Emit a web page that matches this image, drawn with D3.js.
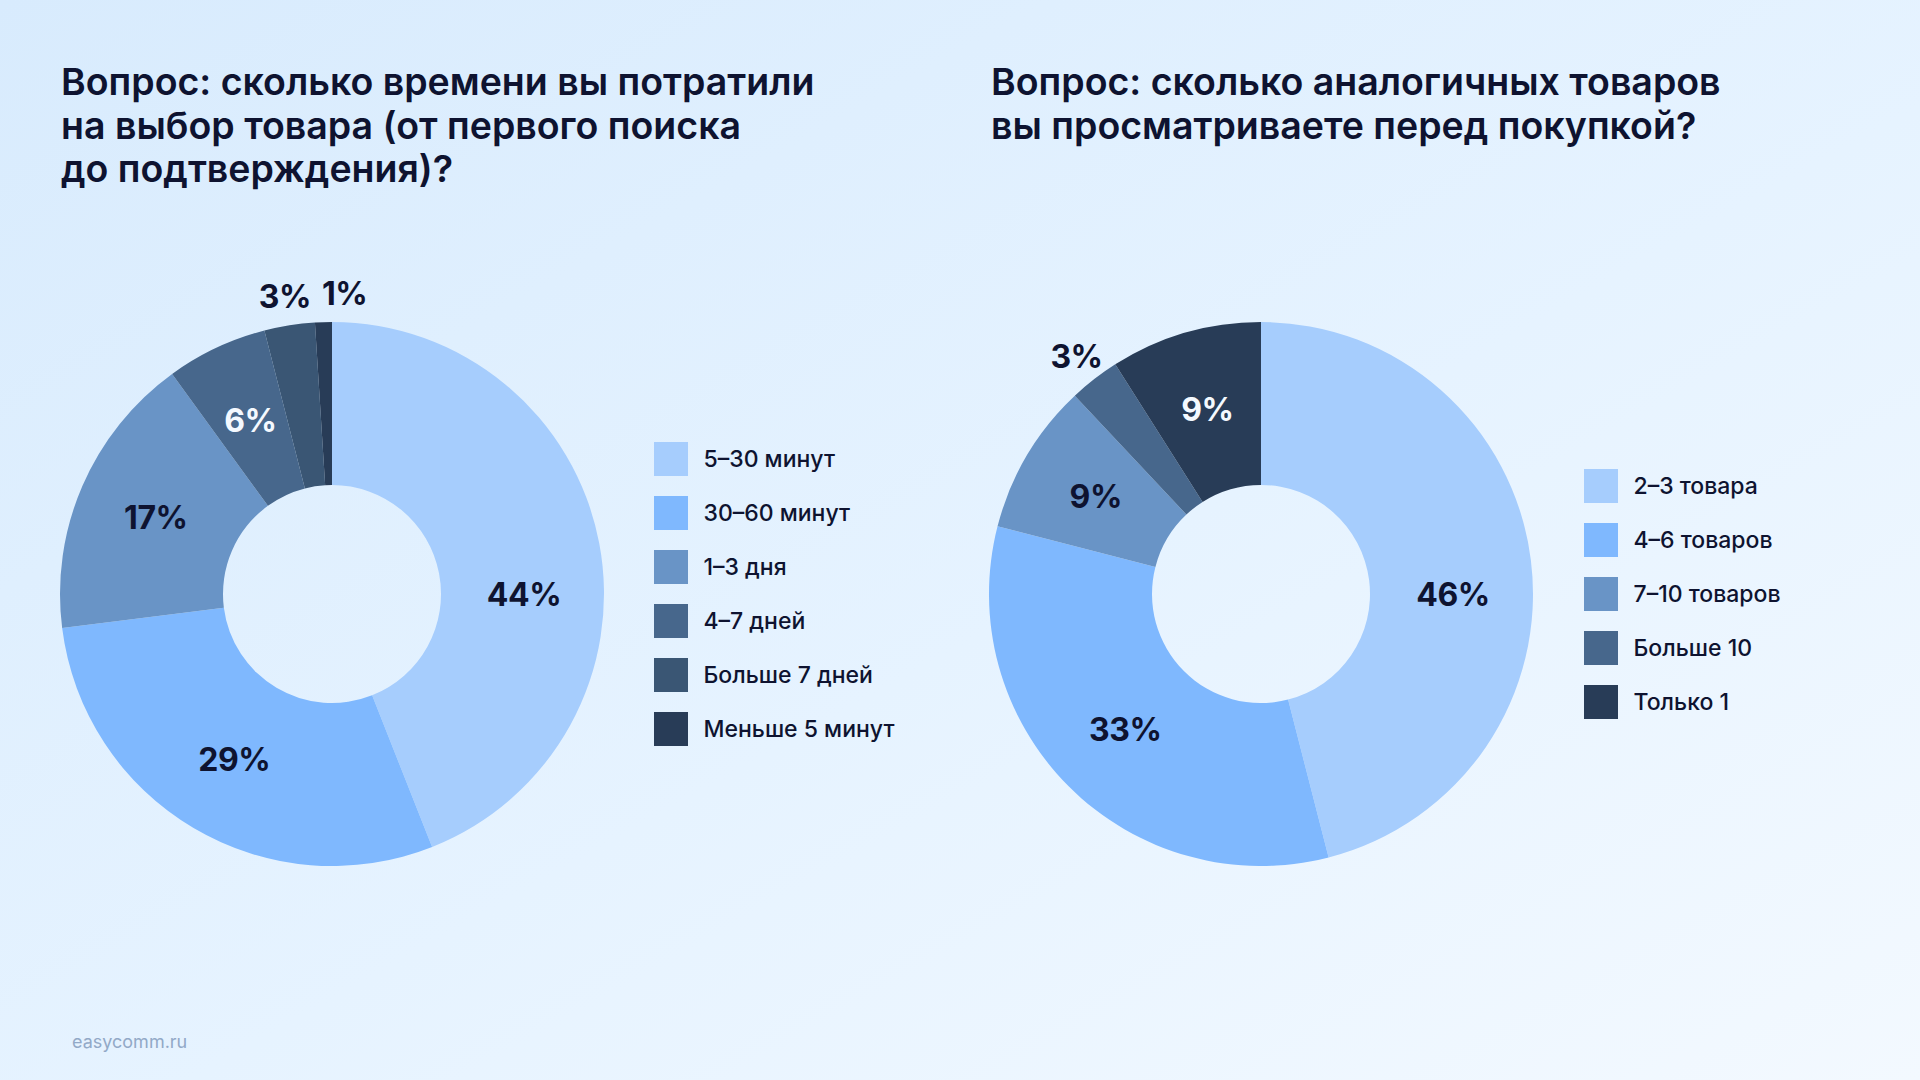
<!DOCTYPE html>
<html lang="ru">
<head>
<meta charset="utf-8">
<script src="https://cdn.jsdelivr.net/npm/d3@7"></script>
<style>
  html, body { margin: 0; padding: 0; width: 1920px; height: 1080px; overflow: hidden; background: #e6f2ff; }
  svg { display: block; font-family: Inter, "Noto Sans", sans-serif; }
</style>
</head>
<body>
<svg id="chart" width="1920" height="1080"></svg>
<script>
// ---- data ----
const leftTitle = ["Вопрос: сколько времени вы потратили", "на выбор товара (от первого поиска", "до подтверждения)?"];
const leftCategories = ["5–30 минут", "30–60 минут", "1–3 дня", "4–7 дней", "Больше 7 дней", "Меньше 5 минут"];
const leftValues = [44, 29, 17, 6, 3, 1];
const leftColors = ["#a6cdfd", "#7fb8fe", "#6994c6", "#47678c", "#3a5674", "#283c57"];

const rightTitle = ["Вопрос: сколько аналогичных товаров", "вы просматриваете перед покупкой?"];
const rightCategories = ["2–3 товара", "4–6 товаров", "7–10 товаров", "Больше 10", "Только 1"];
const rightValues = [46, 33, 9, 3, 9];
const rightColors = ["#a6cdfd", "#7fb8fe", "#6994c6", "#47678c", "#283c57"];

const footerText = "easycomm.ru";

// ---- drawing ----
const svg = d3.select("#chart");
const defs = svg.append("defs");
const grad = defs.append("linearGradient").attr("id", "bg")
  .attr("x1", "0%").attr("y1", "0%").attr("x2", "100%").attr("y2", "100%");
grad.append("stop").attr("offset", "0%").attr("stop-color", "#d8ebfd");
grad.append("stop").attr("offset", "55%").attr("stop-color", "#e6f3ff");
grad.append("stop").attr("offset", "100%").attr("stop-color", "#f3f9ff");
svg.append("rect").attr("width", 1920).attr("height", 1080).attr("fill", "url(#bg)");

const textColor = "#0e1330";
const R = 272, r0 = 109;

function drawPanel(cfg) {
  const g = svg.append("g");
  // title
  const t = g.append("text").attr("x", cfg.titleX).attr("y", 95)
    .attr("font-size", 37.5).attr("font-weight", 600).attr("fill", textColor);
  cfg.title.forEach((line, i) => {
    t.append("tspan").attr("x", cfg.titleX).attr("y", 95 + i * 43.5).text(line);
  });

  const pie = d3.pie().sort(null).value(d => d)(cfg.values);
  const arc = d3.arc().innerRadius(r0).outerRadius(R);
  const color = d3.scaleOrdinal().domain(cfg.categories).range(cfg.colors);

  const pg = g.append("g").attr("transform", `translate(${cfg.cx},${cfg.cy})`);
  pg.selectAll("path").data(pie).join("path")
    .attr("d", arc)
    .attr("fill", (d, i) => color(cfg.categories[i]));

  // labels
  const labelR = 192, outerR = 301;
  let prevOuterRight = null;
  pie.forEach((d, i) => {
    const pct = d.data;
    const outside = pct < 5;
    let a = (d.startAngle + d.endAngle) / 2;
    if (!outside && d.startAngle < Math.PI / 2 && d.endAngle > Math.PI / 2) a = Math.PI / 2;
    const rr = outside ? outerR : labelR;
    let x = rr * Math.sin(a), y = -rr * Math.cos(a);
    const txt = pct + "%";
    const lab = pg.append("text")
      .attr("text-anchor", "middle").attr("dominant-baseline", "central")
      .attr("font-size", 32).attr("font-weight", 700)
      .attr("letter-spacing", "-0.5")
      .text(txt);
    let fill = textColor;
    if (!outside && d3.hsl(color(cfg.categories[i])).l < 0.45) fill = "#f4f9ff";
    lab.attr("fill", fill).attr("x", x).attr("y", y);
    if (outside) {
      const w = lab.node().getComputedTextLength();
      if (prevOuterRight !== null && x - w / 2 < prevOuterRight + 11) {
        x = prevOuterRight + 11 + w / 2;
        lab.attr("x", x);
      }
      prevOuterRight = x + w / 2;
    }
  });

  // legend
  const step = 54, sw = 34;
  const n = cfg.categories.length;
  const y0 = cfg.cy - (n - 1) * step / 2;
  const lg = g.append("g");
  cfg.categories.forEach((c, i) => {
    const yc = y0 + i * step;
    lg.append("rect").attr("x", cfg.legendX).attr("y", yc - sw / 2)
      .attr("width", sw).attr("height", sw).attr("fill", color(c));
    lg.append("text").attr("x", cfg.legendX + sw + 15.5).attr("y", yc)
      .attr("dominant-baseline", "central")
      .attr("font-size", 23).attr("font-weight", 500).attr("fill", textColor)
      .text(c);
  });
}

drawPanel({ title: leftTitle, categories: leftCategories, values: leftValues, colors: leftColors,
  titleX: 61, cx: 332, cy: 594, legendX: 654 });
drawPanel({ title: rightTitle, categories: rightCategories, values: rightValues, colors: rightColors,
  titleX: 991, cx: 1261, cy: 594, legendX: 1584 });

svg.append("text").attr("x", 72).attr("y", 1048)
  .attr("font-size", 18).attr("font-weight", 400).attr("fill", "#92a9c7")
  .text(footerText);
</script>
</body>
</html>
